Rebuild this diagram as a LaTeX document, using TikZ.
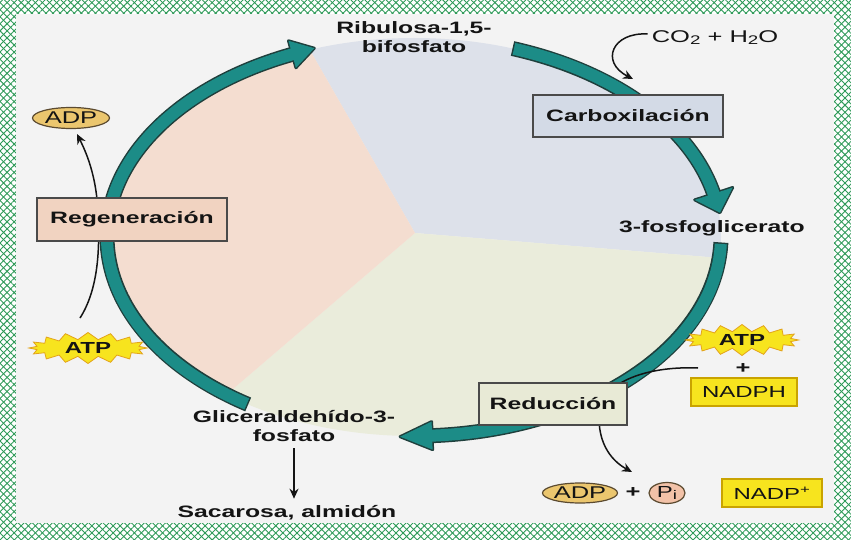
\documentclass[tikz,border=0pt]{standalone}
\usepackage{fontspec}
\newfontfamily\lab[FakeStretch=1.5]{Liberation Sans}
\usetikzlibrary{shapes.symbols,shapes.geometric,arrows.meta,patterns.meta}
\definecolor{bg}{HTML}{F3F3F3}
\definecolor{mesh}{HTML}{2E9A58}
\definecolor{secblue}{HTML}{DDE1EA}
\definecolor{secpeach}{HTML}{F4DDD0}
\definecolor{secgreen}{HTML}{EAECDB}
\definecolor{band}{HTML}{1C8C87}
\definecolor{bandedge}{HTML}{1F3F3C}
\definecolor{boxblue}{HTML}{D3DAE6}
\definecolor{boxpeach}{HTML}{F1D3C1}
\definecolor{boxgreen}{HTML}{E8EAD6}
\definecolor{boxedge}{HTML}{4A4A4A}
\definecolor{adpfill}{HTML}{EBC66E}
\definecolor{pifill}{HTML}{F2C2A8}
\definecolor{ovedge}{HTML}{5B4A30}
\definecolor{ylw}{HTML}{F7E41E}
\definecolor{ylwedge}{HTML}{C9A300}
\definecolor{burstedge}{HTML}{E3A31A}
\definecolor{ink}{HTML}{141414}
\newcommand\lsub[1]{\raisebox{-2pt}{\fontsize{12.5}{12.5}\selectfont #1}}
% arc of the cycle: start angle, end angle, tip, wing1, wing2
\newcommand\bandpath[2]{(E) ++(#1:307 and 199) arc[start angle=#1, end angle=#2, x radius=307, y radius=199]}
\tikzset{
  lbl/.style={font=\lab\bfseries\fontsize{16.5}{19.5}\selectfont, align=center, inner sep=0pt, text=ink},
  stage/.style={draw=boxedge, line width=1.5pt, font=\lab\bfseries\fontsize{16.5}{19.5}\selectfont, text=ink, minimum height=42pt, inner sep=0pt},
  oval/.style={ellipse, draw=ovedge, line width=1.2pt, inner sep=0pt, text=ink, font=\lab\fontsize{17}{17}\selectfont},
  ybox/.style={draw=ylwedge, fill=ylw, line width=1.5pt, inner sep=0pt, minimum height=28pt, text=ink, font=\lab\fontsize{16}{16}\selectfont},
  burst/.style={starburst, starburst points=16, starburst point height=7pt, random starburst=0, fill=ylw, draw=burstedge, line width=0.8pt, inner sep=0pt, minimum width=118pt, minimum height=31pt, text=ink, font=\lab\bfseries\fontsize{16}{16}\selectfont},
  plussign/.style={inner sep=0pt, text=ink, font=\lab\bfseries\fontsize{17}{17}\selectfont},
  arr/.style={draw=ink, line width=1.5pt, -{Stealth[length=10pt, width=9pt]}},
  bandout/.style={draw=bandedge, line width=15pt},
  bandin/.style={draw=band, line width=12pt},
  headout/.style={fill=bandedge, draw=bandedge, line width=3pt, line join=round},
  headin/.style={fill=band}
}
\begin{document}
\begin{tikzpicture}[x=1pt, y=-1pt]
\useasboundingbox (0,0) rectangle (851,540);
% frame
\fill[white] (0,0) rectangle (851,540);
\fill[pattern={Lines[angle=45,distance=5pt,line width=0.9pt]}, pattern color=mesh] (0,0) rectangle (851,540);
\fill[pattern={Lines[angle=-45,distance=5pt,line width=0.9pt]}, pattern color=mesh] (0,0) rectangle (851,540);
\fill[bg] (16,14) rectangle (834,523);
% sectors
\coordinate (C) at (415,233);
\coordinate (E) at (414,237);
\begin{scope}
  \clip (E) ellipse [x radius=307, y radius=199];
  \fill[secblue] (C) -- (199,-143) -- (1025,-143) -- (1025,283) -- cycle;
  \fill[secgreen] (C) -- (1025,283) -- (1025,700) -- (-110,700) -- (-110,683) -- cycle;
  \fill[secpeach] (C) -- (-110,683) -- (-110,-143) -- (199,-143) -- cycle;
\end{scope}
% cycle band: dark outline first, then teal body
\draw[bandout, shorten <=-1.5pt] \bandpath{-71}{-12};
\draw[bandout, shorten <=-1.5pt] \bandpath{2}{87};
\draw[bandout, shorten <=-1.5pt] \bandpath{123}{247};
\fill[headout] (694.7,199.9) -- (719.9,212.7) -- (732.7,187.5) -- cycle;
\fill[headout] (432.6,449.6) -- (400.1,436.7) -- (431.6,421.6) -- cycle;
\fill[headout] (295.9,67.8) -- (314.3,48.2) -- (288.5,40.8) -- cycle;
\draw[bandin] \bandpath{-71}{-12};
\draw[bandin] \bandpath{2}{87};
\draw[bandin] \bandpath{123}{247};
\fill[headin] (694.7,199.9) -- (719.9,212.7) -- (732.7,187.5) -- cycle;
\fill[headin] (432.6,449.6) -- (400.1,436.7) -- (431.6,421.6) -- cycle;
\fill[headin] (295.9,67.8) -- (314.3,48.2) -- (288.5,40.8) -- cycle;
% labels
\node[lbl] (rib) at (414,37) {Ribulosa-1,5-\\bifosfato};
\node[lbl, anchor=base] (pga) at (712,233) {3-fosfoglicerato};
\node[lbl] (gap) at (294,426) {Gliceraldehído-3-\\fosfato};
\node[lbl, anchor=base] (sac) at (287,517) {Sacarosa, almidón};
\node[inner sep=0pt, text=ink, font=\lab\fontsize{17}{17}\selectfont] (co2) at (715,38) {CO\lsub{2} + H\lsub{2}O};
\coordinate (co2tip) at (633,79);
\coordinate (redtip) at (632,472);
\coordinate (sactop) at ([yshift=6pt]sac.north);
% connectors
\draw[arr] ([shift={(-4,-4)}]co2.west) .. controls (612,32) and (600,62) .. (co2tip);
\draw[arr] (80,318) .. controls (98,290) and (100,250) .. (98,215) .. controls (97,175) and (85,150) .. (77,134);
\draw[arr] (698,368) .. controls (650,366) and (610,380) .. (600,405) .. controls (595,440) and (610,460) .. (redtip);
\draw[arr, line width=2pt] ([yshift=-6pt]gap.south) -- (gap.south |- sactop);
% boxes and small nodes
\node[stage, fill=boxblue, minimum width=190pt] (carb) at (628,116) {Carboxilación};
\node[stage, fill=boxpeach, minimum width=190pt, minimum height=43pt] (regen) at (132,219.5) {Regeneración};
\node[stage, fill=boxgreen, minimum width=148pt] (red) at (553,404) {Reducción};
\node[oval, fill=adpfill, minimum width=77pt, minimum height=21pt] (adp1) at (71,118) {ADP};
\node[burst] (atpL) at (88,348) {ATP};
\node[burst, minimum width=113pt] (atpR) at (742,340) {ATP};
\node[plussign] (plusR) at (743,369) {+};
\node[ybox, minimum width=106pt] (nadph) at (744,392) {NADPH};
\node[oval, fill=adpfill, minimum width=75pt, minimum height=20pt] (adp2) at (580,493) {ADP};
\node[plussign] (plusB) at (633,493) {+};
\node[oval, fill=pifill, minimum width=36pt, minimum height=21pt, font=\lab\fontsize{16}{16}\selectfont] (pi) at (667,493) {P\lsub{i}};
\node[ybox, minimum width=100pt] (nadp) at (772,493) {NADP\textsuperscript{+}};
\end{tikzpicture}
\end{document}
